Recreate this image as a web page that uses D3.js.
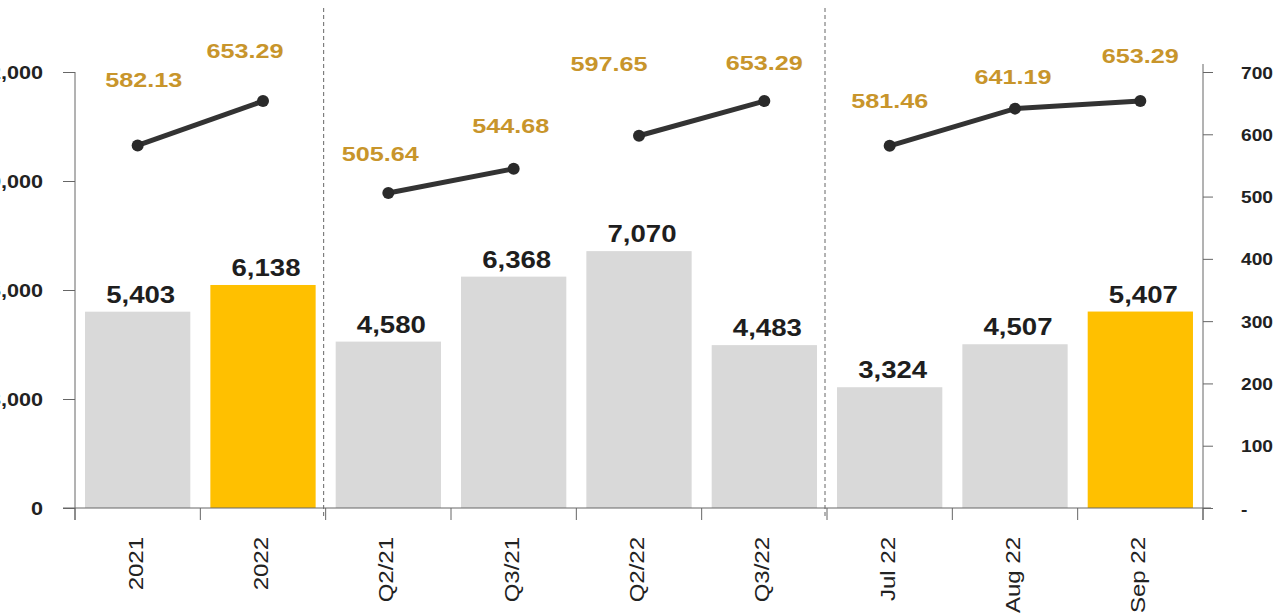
<!DOCTYPE html>
<html>
<head>
<meta charset="utf-8">
<script src="https://cdn.jsdelivr.net/npm/d3@7"></script>
<style>
  body { margin: 0; background: #fff; }
  text { font-family: "Liberation Sans", Arial, sans-serif; }
</style>
</head>
<body>
<figure id="chart" style="margin:0"></figure>
<script>
// data
const categories = ["2021", "2022", "Q2/21", "Q3/21", "Q2/22", "Q3/22", "Jul 22", "Aug 22", "Sep 22"];
const barValues = [5403, 6138, 4580, 6368, 7070, 4483, 3324, 4507, 5407];
const lineValues = [582.13, 653.29, 505.64, 544.68, 597.65, 653.29, 581.46, 641.19, 653.29];
const lineGroups = [0, 0, 1, 1, 2, 2, 3, 3, 3];
const highlighted = ["2022", "Sep 22"];
const leftTicks = [0, 3000, 6000, 9000, 12000];
const rightTicks = [0, 100, 200, 300, 400, 500, 600, 700];
const separatorsAfter = ["2022", "Q3/22"];

// layout
const width = 1281, height = 615;
const plotLeft = 75, plotRight = 1203, plotTop = 72, plotBottom = 508;
// where the line labels sit relative to their points
const labelLift = [66, 51, 40, 44, 73, 39, 46, 33, 46];
const labelDx = [6, -18, -8, -3, -30, 0, 0, -2, 0];
const stretch = 1.2; // the source font is wider than Arial

const svg = d3.select("figure#chart")
  .append("svg")
  .attr("width", width)
  .attr("height", height);

const x = d3.scaleBand()
  .domain(categories)
  .range([plotLeft, plotRight])
  .paddingInner(0.16)
  .paddingOuter(0.08);

const yL = d3.scaleLinear().domain([0, 12000]).range([plotBottom, plotTop]);
const yR = d3.scaleLinear().domain([0, 700]).range([plotBottom, plotTop]);
const cx = d => x(d) + x.bandwidth() / 2;
const at = (px, py) => "translate(" + px + "," + py + ") scale(" + stretch + ",1)";

// bars
svg.selectAll("rect.bar")
  .data(categories)
  .enter()
  .append("rect")
  .attr("class", "bar")
  .attr("x", d => x(d))
  .attr("y", (d, i) => yL(barValues[i]))
  .attr("width", x.bandwidth())
  .attr("height", (d, i) => plotBottom - yL(barValues[i]))
  .attr("fill", d => highlighted.includes(d) ? "#ffc000" : "#d9d9d9");

svg.selectAll("text.barlabel")
  .data(categories)
  .enter()
  .append("text")
  .attr("class", "barlabel")
  .attr("transform", (d, i) => at(cx(d) + 3, yL(barValues[i]) - 9))
  .attr("text-anchor", "middle")
  .attr("font-size", 23)
  .attr("font-weight", "bold")
  .attr("fill", "#1e1e1e")
  .text((d, i) => d3.format(",")(barValues[i]));

// separators
const step = x.step();
const gap = step - x.bandwidth();
separatorsAfter.forEach(c => {
  const sx = x(c) + x.bandwidth() + gap / 2 - 2;
  svg.append("line")
    .attr("x1", sx).attr("x2", sx)
    .attr("y1", 8).attr("y2", 516)
    .attr("stroke", "#666")
    .attr("stroke-width", 1)
    .attr("stroke-dasharray", "4,3");
});

// left axis (labels run off the left edge, as in the source)
const axL = svg.append("g")
  .attr("transform", "translate(" + plotLeft + ",0)")
  .call(d3.axisLeft(yL).tickValues(leftTicks).tickFormat(d3.format(",")).tickSize(12));
axL.select(".domain").attr("d", "M0," + plotTop + "V" + (plotBottom + 12)).attr("stroke", "#666");
axL.selectAll(".tick line").attr("stroke", "#666");
axL.selectAll(".tick text")
  .attr("x", null).attr("dy", null)
  .attr("transform", at(-32, 6))
  .attr("font-size", 18).attr("font-weight", "bold").attr("fill", "#222")
  .style("font-family", "'Liberation Sans', Arial, sans-serif");

// right axis
const axR = svg.append("g")
  .attr("transform", "translate(" + plotRight + ",0)")
  .call(d3.axisRight(yR).tickValues(rightTicks).tickFormat(d => d === 0 ? "-" : d).tickSize(10));
axR.select(".domain").attr("d", "M0," + (plotTop - 8) + "V" + (plotBottom + 12)).attr("stroke", "#666");
axR.selectAll(".tick line").attr("stroke", "#666");
axR.selectAll(".tick text")
  .attr("x", null).attr("dy", null)
  .attr("transform", at(38, 6))
  .attr("font-size", 16).attr("font-weight", "bold").attr("fill", "#222")
  .style("font-family", "'Liberation Sans', Arial, sans-serif");

// bottom axis
svg.append("line")
  .attr("x1", plotLeft - 12).attr("x2", plotRight + 8)
  .attr("y1", plotBottom).attr("y2", plotBottom)
  .attr("stroke", "#666");
const bounds = categories.map(c => x(c) - gap / 2).concat([plotRight]);
svg.selectAll("line.xtick")
  .data(bounds)
  .enter()
  .append("line")
  .attr("class", "xtick")
  .attr("x1", d => d).attr("x2", d => d)
  .attr("y1", plotBottom).attr("y2", plotBottom + 12)
  .attr("stroke", "#666");
svg.selectAll("text.xlabel")
  .data(categories)
  .enter()
  .append("text")
  .attr("class", "xlabel")
  .attr("transform", d => "translate(" + (cx(d) + 5) + "," + 537 + ") rotate(-90) scale(" + stretch + ",1)")
  .attr("text-anchor", "end")
  .attr("font-size", 20)
  .attr("fill", "#222")
  .text(d => d);

// line segments
const line = d3.line()
  .x(i => cx(categories[i]))
  .y(i => yR(lineValues[i]));
const groups = d3.groups(d3.range(categories.length), i => lineGroups[i]);
groups.forEach(([g, idx]) => {
  svg.append("path")
    .attr("d", line(idx))
    .attr("fill", "none")
    .attr("stroke", "#333")
    .attr("stroke-width", 5);
});
svg.selectAll("circle.pt")
  .data(categories)
  .enter()
  .append("circle")
  .attr("class", "pt")
  .attr("cx", d => cx(d))
  .attr("cy", (d, i) => yR(lineValues[i]))
  .attr("r", 6)
  .attr("fill", "#2a2a2a");

svg.selectAll("text.linelabel")
  .data(categories)
  .enter()
  .append("text")
  .attr("class", "linelabel")
  .attr("transform", (d, i) => at(cx(d) + labelDx[i], yR(lineValues[i]) - labelLift[i] + 8))
  .attr("text-anchor", "middle")
  .attr("font-size", 21)
  .attr("font-weight", "bold")
  .attr("fill", "#c8952b")
  .text((d, i) => lineValues[i].toFixed(2));
</script>
</body>
</html>
